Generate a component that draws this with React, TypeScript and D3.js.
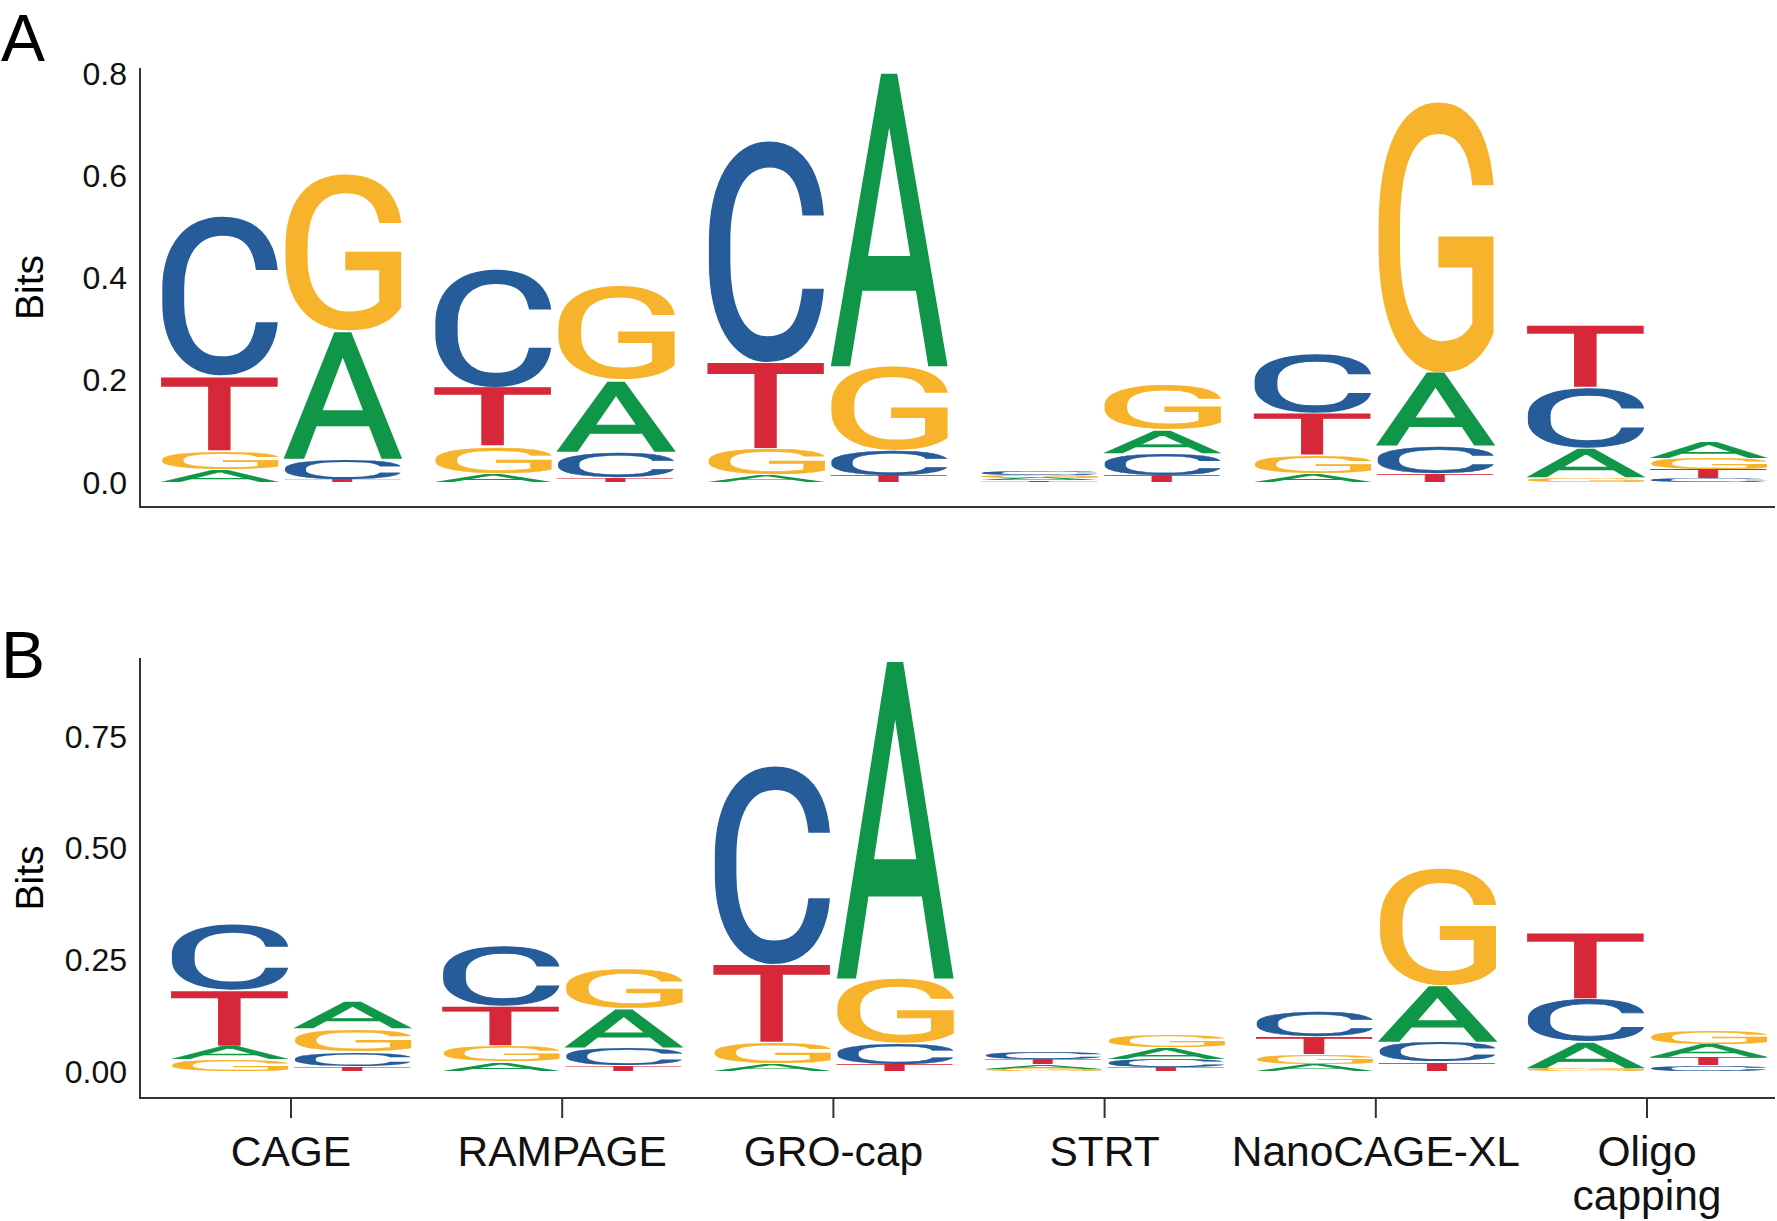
import React, { useMemo } from 'react';
import * as d3 from 'd3';

// ---- data ----
const groups = ['CAGE', 'RAMPAGE', 'GRO-cap', 'STRT', 'NanoCAGE-XL', 'Oligo capping'];
const positions = ['p1', 'p2'];
const bases = ['A', 'C', 'G', 'T'];
const baseColors = ['#109648', '#255C99', '#F7B32B', '#D62839'];

// Panel A (12 columns: 2 per group)
const panelA_A = [0.025, 0.252, 0.016, 0.142, 0.013, 0.578, 0.004, 0.047, 0.016, 0.145, 0.058, 0.033];
const panelA_C = [0.310, 0.040, 0.230, 0.050, 0.430, 0.050, 0.008, 0.044, 0.115, 0.055, 0.120, 0.007];
const panelA_G = [0.036, 0.304, 0.053, 0.183, 0.052, 0.165, 0.006, 0.088, 0.036, 0.526, 0.008, 0.022];
const panelA_T = [0.147, 0.005, 0.117, 0.008, 0.170, 0.012, 0.003, 0.012, 0.082, 0.015, 0.122, 0.018];

// Panel B
const panelB_A = [0.030, 0.063, 0.020, 0.088, 0.015, 0.716, 0.010, 0.026, 0.015, 0.128, 0.060, 0.030];
const panelB_C = [0.148, 0.033, 0.137, 0.040, 0.441, 0.047, 0.015, 0.018, 0.058, 0.045, 0.095, 0.013];
const panelB_G = [0.025, 0.051, 0.036, 0.090, 0.049, 0.146, 0.005, 0.028, 0.022, 0.261, 0.005, 0.031];
const panelB_T = [0.126, 0.010, 0.090, 0.012, 0.176, 0.015, 0.012, 0.008, 0.040, 0.020, 0.150, 0.017];

const ticksA = [0, 0.2, 0.4, 0.6, 0.8];
const ticksB = [0, 0.25, 0.5, 0.75];

const LOGO_FONT_FAMILY = 'Roboto';
const LOGO_FONT_WEIGHT = 400;
const TEXT_FONT = '"Liberation Sans", Arial, sans-serif';

type Metric = { l: number; r: number; a: number; d: number };

function measureGlyphs(): Record<string, Metric> {
  const canvas = document.createElement('canvas');
  const ctx = canvas.getContext('2d')!;
  ctx.font = `${LOGO_FONT_WEIGHT} 100px ${LOGO_FONT_FAMILY}`;
  const out: Record<string, Metric> = {};
  for (const b of bases) {
    const t = ctx.measureText(b);
    out[b] = {
      l: t.actualBoundingBoxLeft,
      r: t.actualBoundingBoxRight,
      a: t.actualBoundingBoxAscent,
      d: t.actualBoundingBoxDescent,
    };
  }
  return out;
}

type PanelCfg = {
  label: string;
  series: number[][]; // per base
  ticks: number[];
  fmt: string;
  domainMax: number;
  yZero: number;
  yMax: number;
  axisTop: number;
  xAxisY: number;
  groupRange: [number, number];
  showX: boolean;
  labelBaseline: number;
};

function Panel({ cfg, metrics }: { cfg: PanelCfg; metrics: Record<string, Metric> }) {
  const y = d3.scaleLinear().domain([0, cfg.domainMax]).range([cfg.yZero, cfg.yMax]);
  const xg = d3.scalePoint<string>().domain(groups).range(cfg.groupRange);
  const xi = d3.scaleBand<string>().domain(positions).range([-120.5, 120.5]).paddingInner(0.04);
  const bw = xi.bandwidth();
  const fmt = d3.format(cfg.fmt);
  const axisX0 = 140;
  const axisX1 = 1775;

  const letters: React.ReactNode[] = [];
  groups.forEach((g, gi) => {
    positions.forEach((p, pi) => {
      const col = gi * 2 + pi;
      const vals = bases.map((b, bi) => ({ b, bi, v: cfg.series[bi][col] }));
      vals.sort((u, w) => u.v - w.v);
      let cum = 0;
      const x0 = (xg(g) as number) + (xi(p) as number);
      vals.forEach(({ b, bi, v }) => {
        const yb = y(cum);
        const yt = y(cum + v);
        cum += v;
        const h = yb - yt;
        if (h <= 0) return;
        const m = metrics[b];
        // extra weight via a non-scaling stroke, inset so outer bounds stay in the box
        const sw = Math.min(2.6, h * 0.05);
        const ins = sw / 2;
        const gw = m.l + m.r;
        const gh = m.a + m.d;
        const sx = (bw - 2 * ins) / gw;
        const sy = Math.max(h - 2 * ins, h * 0.5) / gh;
        const ty = yt + (h - sy * gh) / 2;
        letters.push(
          <text
            key={`${col}-${b}`}
            x={0}
            y={0}
            fontFamily={LOGO_FONT_FAMILY}
            fontWeight={LOGO_FONT_WEIGHT}
            fontSize={100}
            fill={baseColors[bi]}
            stroke={baseColors[bi]}
            strokeWidth={sw}
            strokeLinejoin="miter"
            vectorEffect="non-scaling-stroke"
            transform={`translate(${x0 + ins},${ty}) scale(${sx},${sy}) translate(${m.l},${m.a})`}
          >
            {b}
          </text>
        );
      });
    });
  });

  const midY = (cfg.axisTop + cfg.xAxisY) / 2;

  return (
    <g>
      <text x={1} y={cfg.labelBaseline} fontFamily={TEXT_FONT} fontSize={66} fill="#000">
        {cfg.label}
      </text>
      <text
        transform={`translate(43,${midY}) rotate(-90)`}
        textAnchor="middle"
        fontFamily={TEXT_FONT}
        fontSize={39}
        fill="#000"
      >
        Bits
      </text>
      {cfg.ticks.map((t) => (
        <text
          key={t}
          x={127}
          y={y(t)}
          dy="0.36em"
          textAnchor="end"
          fontFamily={TEXT_FONT}
          fontSize={32}
          fill="#111"
        >
          {fmt(t)}
        </text>
      ))}
      {letters}
      <line x1={axisX0} x2={axisX0} y1={cfg.axisTop} y2={cfg.xAxisY + 1} stroke="#333" strokeWidth={2} />
      <line x1={axisX0} x2={axisX1} y1={cfg.xAxisY} y2={cfg.xAxisY} stroke="#333" strokeWidth={2} />
      {cfg.showX &&
        groups.map((g) => {
          const cx = xg(g) as number;
          const lines = g === 'Oligo capping' ? ['Oligo', 'capping'] : [g];
          return (
            <g key={g}>
              <line x1={cx} x2={cx} y1={cfg.xAxisY} y2={cfg.xAxisY + 20} stroke="#333" strokeWidth={2} />
              {lines.map((ln, li) => (
                <text
                  key={ln}
                  x={cx}
                  y={1166 + li * 44}
                  textAnchor="middle"
                  fontFamily={TEXT_FONT}
                  fontSize={42.5}
                  fill="#111"
                >
                  {ln}
                </text>
              ))}
            </g>
          );
        })}
    </g>
  );
}

export default function App() {
  const metrics = useMemo(() => measureGlyphs(), []);
  const cfgA: PanelCfg = {
    label: 'A',
    series: [panelA_A, panelA_C, panelA_G, panelA_T],
    ticks: ticksA,
    fmt: '.1f',
    domainMax: 0.8,
    yZero: 482,
    yMax: 73,
    axisTop: 68,
    xAxisY: 507,
    groupRange: [281, 1647],
    showX: false,
    labelBaseline: 61,
  };
  const cfgB: PanelCfg = {
    label: 'B',
    series: [panelB_A, panelB_C, panelB_G, panelB_T],
    ticks: ticksB,
    fmt: '.2f',
    domainMax: 0.75,
    yZero: 1071,
    yMax: 736,
    axisTop: 658,
    xAxisY: 1098,
    groupRange: [291, 1647],
    showX: true,
    labelBaseline: 678,
  };
  return (
    <svg
      width={1777}
      height={1221}
      style={{ position: 'absolute', left: 0, top: 0, display: 'block', background: '#fff' }}
    >
      <rect x={0} y={0} width={1777} height={1221} fill="#fff" />
      <Panel cfg={cfgA} metrics={metrics} />
      <Panel cfg={cfgB} metrics={metrics} />
    </svg>
  );
}
